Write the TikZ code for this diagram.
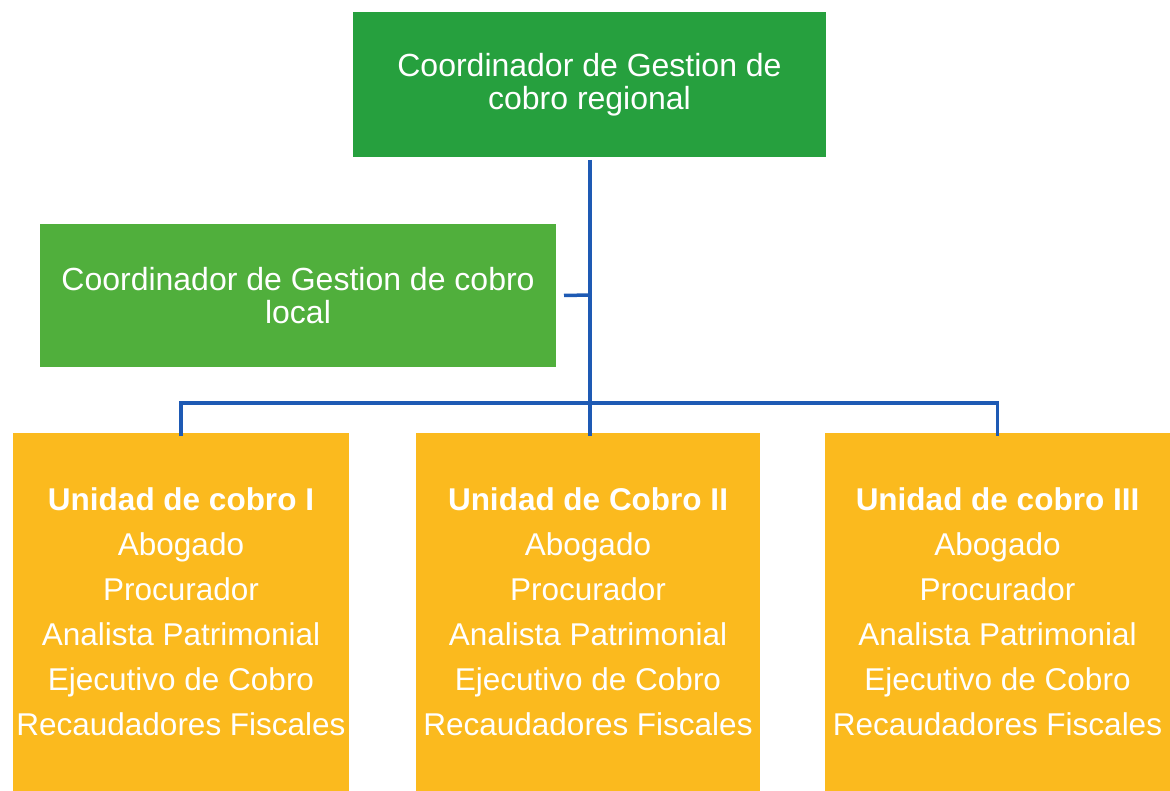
\documentclass[tikz,border=0pt]{standalone}
\usepackage{fontspec}
\setmainfont{Liberation Sans}
\definecolor{dkgreen}{RGB}{38,160,62}
\definecolor{ltgreen}{RGB}{80,175,60}
\definecolor{gold}{RGB}{251,186,30}
\definecolor{linkblue}{RGB}{30,90,180}
\tikzset{
  box/.style={inner sep=0pt, outer sep=0pt, text=white, align=center, anchor=north west},
  link/.style={draw=linkblue, line width=3.5pt},
  unitbox/.style={box, fill=gold, font=\fontsize{31.5}{45}\selectfont}
}
\begin{document}
\begin{tikzpicture}[x=1pt,y=-1pt]
\useasboundingbox (0,0) rectangle (1170,791);
\node[box, fill=dkgreen, minimum width=473pt, minimum height=145pt, font=\fontsize{32}{33}\selectfont] (top) at (353,12) {Coordinador de Gestion de\\cobro regional};
\node[box, fill=ltgreen, minimum width=516pt, minimum height=143pt, font=\fontsize{32}{33}\selectfont] (loc) at (40,224) {Coordinador de Gestion de cobro\\local};
\node[unitbox, minimum width=336pt, minimum height=358pt] (u1) at (13,433) {\textbf{Unidad de cobro I}\\Abogado\\Procurador\\Analista Patrimonial\\Ejecutivo de Cobro\\Recaudadores Fiscales};
\node[unitbox, minimum width=344pt, minimum height=358pt] (u2) at (416,433) {\textbf{Unidad de Cobro II}\\Abogado\\Procurador\\Analista Patrimonial\\Ejecutivo de Cobro\\Recaudadores Fiscales};
\node[unitbox, minimum width=345pt, minimum height=358pt] (u3) at (825,433) {\textbf{Unidad de cobro III}\\Abogado\\Procurador\\Analista Patrimonial\\Ejecutivo de Cobro\\Recaudadores Fiscales};
\coordinate (hub) at (590,403);
\coordinate (lj) at (590,295);
\draw[link] ([yshift=-3pt]top.south -| hub) -- (hub);
\draw[link] ([xshift=8pt]loc.east) -- (lj);
\draw[link] ([yshift=-3pt]u1.north) |- (hub) -| ([yshift=-3pt]u3.north);
\draw[link] (hub) -- ([yshift=-3pt]u2.north -| hub);
\end{tikzpicture}
\end{document}
